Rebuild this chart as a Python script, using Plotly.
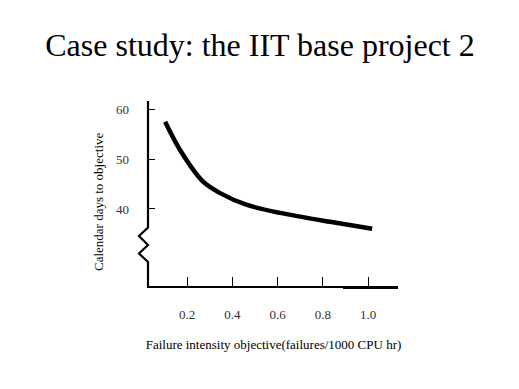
import plotly.graph_objects as go

# Data
failure_intensity = [0.103, 0.169, 0.271, 0.346, 0.465, 0.611, 0.832, 1.018]
calendar_days = [57.6, 51.9, 45.5, 43.2, 40.8, 39.2, 37.4, 36.0]
x_tick_vals = [0.2, 0.4, 0.6, 0.8, 1.0]
x_tick_text = ["0.2", "0.4", "0.6", "0.8", "1.0"]
y_tick_vals = [40, 50, 60]
y_tick_text = ["40", "50", "60"]

X0, X1 = 0.023, 1.141
Y0, Y1 = 24.24, 61.8

fig = go.Figure()
fig.add_trace(go.Scatter(
    x=failure_intensity, y=calendar_days, mode="lines",
    line=dict(color="black", width=4.5, shape="spline", smoothing=0.8),
    hoverinfo="skip", showlegend=False))

serif = "Liberation Serif, Times New Roman, serif"
OFF = 8  # page body margin offset

fig.update_layout(
    width=519, height=389,
    margin=dict(l=147 - OFF, r=119 + OFF, t=101 - OFF, b=102 + OFF, autoexpand=False),
    paper_bgcolor="white", plot_bgcolor="white",
    title=dict(text="Case study: the IIT base project 2", x=(260 - OFF) / 519, xanchor="center",
               y=1 - (45 - OFF) / 389, yanchor="middle",
               font=dict(family=serif, size=32, color="black")),
    xaxis=dict(range=[X0, X1], tickvals=x_tick_vals, ticktext=x_tick_text,
               ticks="inside", ticklen=10, tickwidth=1.3, tickcolor="black",
               showgrid=False, zeroline=False, showline=False, automargin=False,
               ticklabelstandoff=18,
               tickfont=dict(family=serif, size=13, color="#333"),
               title=dict(text="Failure intensity objective(failures/1000 CPU hr)",
                          font=dict(family=serif, size=13, color="black"), standoff=18)),
    yaxis=dict(range=[Y0, Y1], tickvals=y_tick_vals, ticktext=y_tick_text,
               ticks="inside", ticklen=8, tickwidth=1.3, tickcolor="black",
               showgrid=False, zeroline=False, showline=False, automargin=False,
               ticklabelstandoff=17,
               tickfont=dict(family=serif, size=13, color="#333")),
)

# Axis lines drawn as shapes in paper coordinates (y axis with a break zigzag)
def px_to_p(px):
    return (px - 147) / (400 - 147)

def py_to_p(py):
    return (287 - py) / (287 - 101)

fig.add_annotation(text="Calendar days to objective", textangle=-90, showarrow=False,
                   xref="paper", yref="paper", x=px_to_p(98), y=py_to_p(202),
                   xanchor="center", yanchor="middle",
                   font=dict(family=serif, size=13, color="black"))

ax = px_to_p(148)
zl = px_to_p(139)
path = (f"M {ax},{py_to_p(101)} L {ax},{py_to_p(227.5)} L {zl},{py_to_p(236)} "
        f"L {ax},{py_to_p(245)} L {zl},{py_to_p(253.5)} L {ax},{py_to_p(262)} L {ax},{py_to_p(288)}")
fig.add_shape(type="path", path=path, xref="paper", yref="paper",
              line=dict(color="black", width=2.2))
# thin x-axis line
fig.add_shape(type="line", x0=ax, x1=px_to_p(344), y0=py_to_p(287), y1=py_to_p(287),
              xref="paper", yref="paper", line=dict(color="black", width=2.2))
# thicker end segment
fig.add_shape(type="line", x0=px_to_p(343), x1=px_to_p(398), y0=py_to_p(287.5), y1=py_to_p(287.5),
              xref="paper", yref="paper", line=dict(color="black", width=3.2))

fig.write_html("out.html")
